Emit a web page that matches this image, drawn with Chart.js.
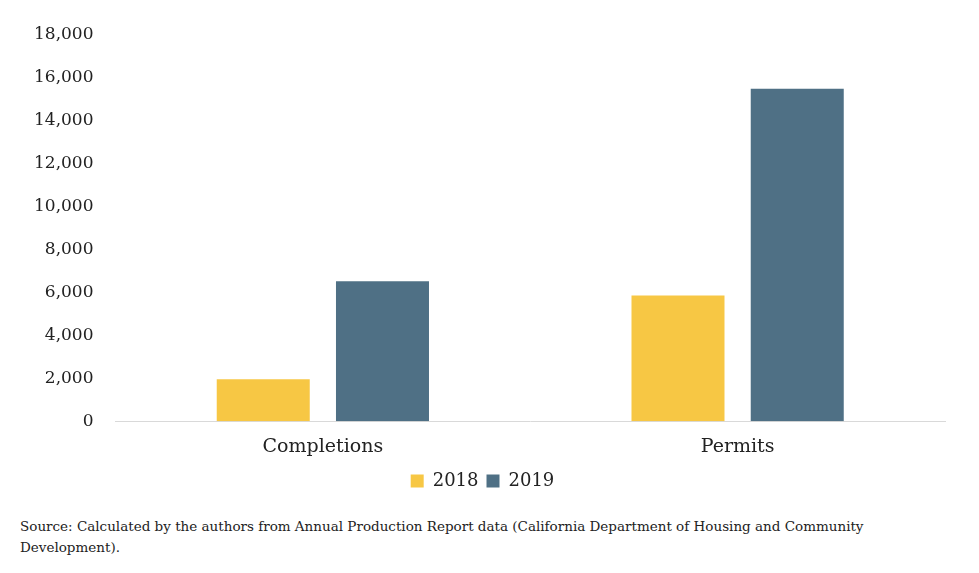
<!DOCTYPE html>
<html><head><meta charset="utf-8">
<script src="https://cdn.jsdelivr.net/npm/chart.js@4/dist/chart.umd.min.js"></script>
<style>
body{margin:0;background:#fff;width:979px;height:573px;overflow:hidden;font-family:"DejaVu Serif",serif;}
#wrap{position:absolute;left:0;top:0;width:979px;height:500px;}
#src{position:absolute;left:20px;top:516px;font-size:13.5px;line-height:21px;color:#222;width:930px;}
</style></head><body>
<div id="wrap"><canvas id="c"></canvas></div>
<div id="src">Source: Calculated by the authors from Annual Production Report data (California Department of Housing and Community Development).</div>
<script>
const categories=["Completions","Permits"];
const values2018=[1950,5860];
const values2019=[6520,15500];
const seriesNames=["2018","2019"];
Chart.defaults.font.family='"DejaVu Serif", serif';
Chart.defaults.color='#222';
new Chart(document.getElementById('c'),{
type:'bar',
data:{labels:categories,datasets:[
{label:seriesNames[0],data:values2018,backgroundColor:'#F7C744',barPercentage:0.78,categoryPercentage:0.575},
{label:seriesNames[1],data:values2019,backgroundColor:'#4F7085',barPercentage:0.78,categoryPercentage:0.575}]},
options:{responsive:true,maintainAspectRatio:false,animation:false,
layout:{padding:{top:35,right:34,left:20,bottom:0}},
plugins:{legend:{position:'bottom',labels:{boxWidth:13,boxHeight:13,font:{size:18},padding:8}},tooltip:{enabled:false}},
scales:{
y:{min:0,max:18000,ticks:{stepSize:2000,font:{size:17},padding:14,callback:v=>v.toLocaleString('en-US')},grid:{display:false},border:{display:false}},
x:{ticks:{font:{size:19},padding:6},grid:{display:false},border:{color:'#d9d9d9'}}
}}});
</script>
</body></html>
